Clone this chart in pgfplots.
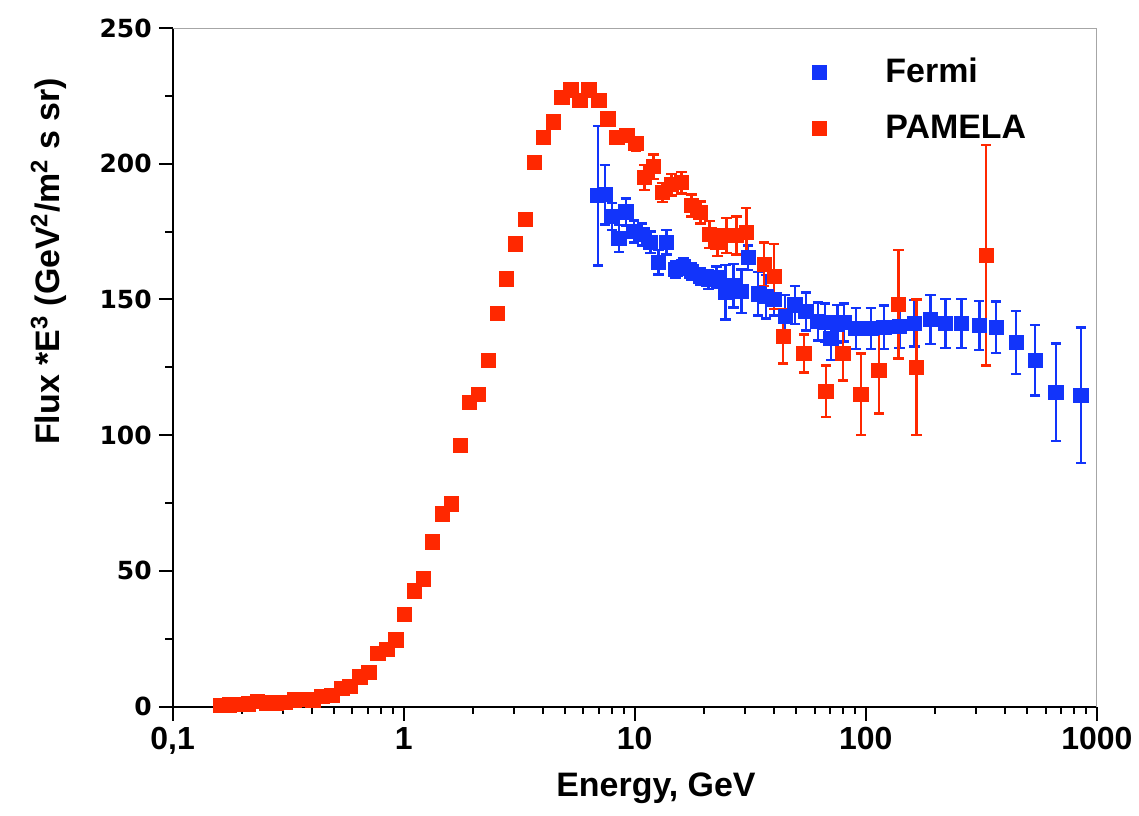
\documentclass[border=0pt]{standalone}
\usepackage{pgfplots}
\usepackage{pgfplotstable}
\pgfplotsset{compat=1.18}
\usepackage{fontspec}
\setmainfont{Liberation Sans}
\newfontfamily\tickfont{DejaVu Sans}
\definecolor{fermiblue}{RGB}{18,52,250}
\definecolor{pamelared}{RGB}{255,40,0}

\pgfplotstableread{
E F err
6.93 188.2 25.7
7.43 188.6 11
7.96 180.5 5
8.53 172.4 5
9.15 182.2 5
9.90 175.0 4
10.72 173.9 4
11.72 171.0 4
12.69 163.6 4.5
13.74 171.0 4.5
15.02 161.0 3
16.27 162.0 3
17.62 160.3 3
19.26 158.5 3
20.84 157.4 3.5
22.57 158.1 4
24.68 152.6 10
26.72 155.0 8
28.93 153.0 8
31.00 165.4 4.5
34.2 152.0 8
37.1 151.0 8
40.1 150.0 6
44.8 143.7 8
49.4 148.0 7
55.1 145.6 7
62.1 141.9 7
66.5 141.5 7
70.7 135.7 8
75.5 141.0 7
80.4 141.5 7
90.5 139.3 7.5
105.1 139.3 7.5
119.6 139.7 8
140.1 140.0 8
162.6 141.2 8.5
190.6 142.6 9
221.2 141.2 9
259.3 141.2 9
310.0 140.4 9
367.0 139.7 9.5
447.6 134.2 11.6
540.7 127.6 13
665.8 115.8 18
853.1 114.7 25
}\fermi

\pgfplotstableread{
E F err
0.161 0.5 0.3
0.176 0.6 0.3
0.194 0.8 0.3
0.213 1.0 0.3
0.232 1.8 0.3
0.254 1.3 0.3
0.281 1.3 0.3
0.307 1.5 0.3
0.336 2.5 0.3
0.371 2.6 0.3
0.405 2.5 0.3
0.443 3.8 0.3
0.489 4.2 0.3
0.540 6.6 0.3
0.585 7.4 0.3
0.646 11.0 0.4
0.707 12.5 0.4
0.773 19.5 0.5
0.845 21.0 0.5
0.924 24.6 0.5
1.010 34.0 0.6
1.115 42.6 0.7
1.220 47.0 0.7
1.334 60.7 0.8
1.473 71.0 0.9
1.610 74.6 0.9
1.761 96.3 1.0
1.925 112.0 1.0
2.105 115.0 1.0
2.325 127.6 1.0
2.542 144.8 1.0
2.780 157.6 1.0
3.040 170.5 1.0
3.357 179.4 1.0
3.671 200.4 1.0
4.012 209.6 1.0
4.432 215.4 1.0
4.845 224.3 1.0
5.298 227.2 1.0
5.793 223.2 1.0
6.334 227.2 1.0
6.995 223.2 1.5
7.649 216.5 1.5
8.363 209.6 2
9.237 210.3 2
10.10 207.4 2.5
11.04 194.9 4.5
12.07 198.9 4.5
13.20 189.3 3.5
14.44 192.3 4
15.94 193.0 4
17.61 184.6 4
19.26 182.0 4
21.05 173.9 5
22.80 171.0 5
24.93 173.5 6.5
27.53 173.5 7
30.40 174.6 9
36.34 162.9 8
40.12 158.5 12
43.87 136.4 10
54.06 130.1 7
67.24 116.2 9.5
79.60 130.1 10
95.15 115.0 15
113.8 123.9 16
138.8 148.2 20
165.9 125.0 25
332.3 166.2 40.6
}\pamela

\begin{document}
\begin{tikzpicture}
\begin{axis}[
  scale only axis, width=463pt, height=340pt,
  xmode=log, xmin=0.1, xmax=1000, ymin=0, ymax=250,
  axis x line*=bottom, axis y line*=left,
  axis line style={line width=1pt, black, -},
  tick align=outside, major tick length=7pt, minor tick length=3.7pt,
  every tick/.style={black, line width=1pt},
  xtick={0.1,1,10,100,1000}, xticklabels={0{,}1,1,10,100,1000},
  minor xtick={0.2,0.3,0.4,0.5,0.6,0.7,0.8,0.9,2,3,4,5,6,7,8,9,20,30,40,50,60,70,80,90,200,300,400,500,600,700,800,900},
  ytick={0,50,100,150,200,250}, yticklabels={0,50,100,150,200,250},
  minor ytick={25,75,125,175,225},
  x tick label style={font=\bfseries\fontsize{16}{18}\selectfont},
  y tick label style={font=\tickfont\bfseries\fontsize{12.5}{15}\selectfont},
  xlabel={Energy, GeV},
  ylabel={Flux *E\textsuperscript{3} (GeV\textsuperscript{2}/m\textsuperscript{2} s sr)},
  label style={font=\bfseries\fontsize{17}{20}\selectfont},
  xlabel style={at={(axis description cs:0.523,-0.1324)}, anchor=base},
  ylabel style={at={(axis description cs:-0.122,0.656)}, anchor=base},
  legend style={at={(axis description cs:0.6836,0.9676)}, anchor=north west, draw=none, fill=none,
    font=\bfseries\fontsize{17}{20}\selectfont, row sep=10.5pt},
  legend cell align=left,
  legend image code/.code={\draw[#1] plot coordinates {(0pt,0pt)}; \path (-4pt,0pt) (31pt,0pt);},
]
\draw[black!35, line width=0.4pt] (rel axis cs:0,1) -- (rel axis cs:1,1) -- (rel axis cs:1,0);
\addplot[forget plot, only marks, mark=square*, mark size=3.6pt, color=fermiblue,
  error bars/.cd, y dir=both, y explicit,
  error bar style={line width=1.2pt, fermiblue},
  error mark options={line width=1.2pt, mark size=2.6pt, rotate=90, fermiblue}]
  table[x=E, y=F, y error=err]{\fermi};
\addplot[forget plot, only marks, mark=square*, mark size=3.6pt, color=pamelared,
  error bars/.cd, y dir=both, y explicit,
  error bar style={line width=1.2pt, pamelared},
  error mark options={line width=1.2pt, mark size=2.6pt, rotate=90, pamelared}]
  table[x=E, y=F, y error=err]{\pamela};
\addlegendimage{only marks, mark=square*, mark size=3.5pt, color=fermiblue}
\addlegendentry{Fermi}
\addlegendimage{only marks, mark=square*, mark size=3.5pt, color=pamelared}
\addlegendentry{PAMELA}
\end{axis}
\path (-86.5pt,-54.5pt) rectangle (483pt,354pt);
\end{tikzpicture}
\end{document}
